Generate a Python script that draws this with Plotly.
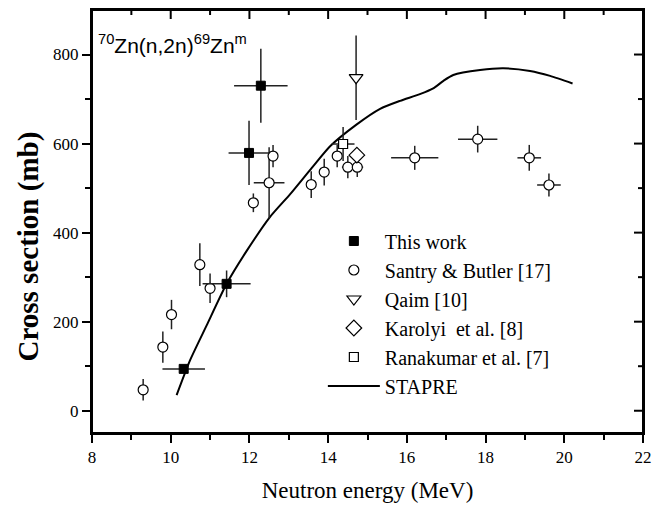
import plotly.graph_objects as go

# ---- data ----
this_x = [10.33, 11.42, 11.99, 12.29]
this_y = [94, 285, 579, 730]
this_ey = [8, 30, 72, 83]
this_ex = [0.54, 0.61, 0.52, 0.68]

sb_x = [9.30, 9.80, 10.02, 10.74, 11.00, 12.10, 12.50, 12.60, 13.57, 13.90, 14.23, 14.50, 14.74, 16.20, 17.80, 19.11, 19.61]
sb_y = [47, 143, 216, 328, 275, 467, 512, 572, 508, 536, 572, 547, 547, 568, 610, 568, 507]
sb_ey = [24, 35, 33, 48, 33, 21, 80, 25, 30, 30, 25, 25, 22, 27, 30, 29, 26]
sb_ex = [0, 0, 0, 0, 0, 0, 0.39, 0, 0, 0.12, 0.12, 0.15, 0.15, 0.6, 0.5, 0.3, 0.3]

qaim_x = [14.71]
qaim_y = [748]
qaim_ey = [95]

karolyi_x = [14.73]
karolyi_y = [574]

rana_x = [14.38]
rana_y = [599]
rana_ey = [38]
rana_ex = [0.29]

stapre_x = [10.15, 10.49, 10.91, 11.42, 11.93, 12.52, 13.03, 13.58, 14.05, 14.71, 15.32, 15.83,
            16.33, 16.67, 16.93, 17.18, 17.86, 18.45, 19.13, 19.64, 20.21]
stapre_y = [35, 113, 191, 285, 359, 435, 486, 545, 594, 642, 678, 696,
            711, 724, 741, 754, 765, 769, 763, 752, 735]

x_ticks = [8, 10, 12, 14, 16, 18, 20, 22]
x_minor = [9, 11, 13, 15, 17, 19, 21]
y_ticks = [0, 200, 400, 600, 800]
y_minor = [100, 300, 500, 700]

SERIF = "Liberation Serif, Times New Roman, serif"
SANS = "Liberation Sans, Arial, sans-serif"
EB = "#222222"

W, H = 663, 505
ML, MR, MT, MB = 92, 20, 10, 72
PW, PH = W - ML - MR, H - MT - MB

fig = go.Figure()

fig.add_trace(go.Scatter(
    x=stapre_x, y=stapre_y, mode="lines", name="STAPRE",
    line=dict(color="black", width=2, shape="spline", smoothing=0.6),
    legendrank=6))

fig.add_trace(go.Scatter(
    x=sb_x, y=sb_y, mode="markers", name="Santry & Butler [17]",
    marker=dict(symbol="circle", size=10, color="white", line=dict(color="black", width=1.2)),
    error_y=dict(type="data", array=sb_ey, color=EB, thickness=1.5, width=0),
    error_x=dict(type="data", array=sb_ex, color=EB, thickness=1.5, width=0),
    legendrank=2))

fig.add_trace(go.Scatter(
    x=qaim_x, y=qaim_y, mode="markers", name="Qaim [10]",
    marker=dict(symbol="triangle-down", size=12, color="white", line=dict(color="black", width=1.2)),
    error_y=dict(type="data", array=qaim_ey, color=EB, thickness=1.5, width=0),
    legendrank=3))

fig.add_trace(go.Scatter(
    x=karolyi_x, y=karolyi_y, mode="markers", name="Karolyi\u00a0 et al. [8]",
    marker=dict(symbol="diamond", size=12, color="white", line=dict(color="black", width=1.2)),
    legendrank=4))

fig.add_trace(go.Scatter(
    x=rana_x, y=rana_y, mode="markers", name="Ranakumar et al. [7]",
    marker=dict(symbol="square", size=9, color="white", line=dict(color="black", width=1.2)),
    error_y=dict(type="data", array=rana_ey, color=EB, thickness=1.5, width=0),
    error_x=dict(type="data", array=rana_ex, color=EB, thickness=1.5, width=0),
    legendrank=5))

fig.add_trace(go.Scatter(
    x=this_x, y=this_y, mode="markers", name="This work",
    marker=dict(symbol="square", size=9, color="black", line=dict(color="black", width=1)),
    error_y=dict(type="data", array=this_ey, color=EB, thickness=1.5, width=0),
    error_x=dict(type="data", array=this_ex, color=EB, thickness=1.5, width=0),
    legendrank=1))

axis_common = dict(showgrid=False, zeroline=False, showline=True, linecolor="black",
                   linewidth=2, tickcolor="black", tickwidth=2, automargin=False)

fig.update_layout(
    width=W, height=H,
    margin=dict(l=ML, r=MR, t=MT, b=MB),
    paper_bgcolor="white", plot_bgcolor="white",
    font=dict(family=SERIF, color="black"),
    xaxis=dict(range=[8, 22], tickvals=x_ticks, ticks="outside", ticklen=8, mirror=True,
               tickfont=dict(family=SERIF, size=17, color="black"),
               minor=dict(tickvals=x_minor, ticks="outside", ticklen=5, tickwidth=2, tickcolor="black"),
               title=dict(text="Neutron energy (MeV)", font=dict(family=SERIF, size=23, color="black"),
                          standoff=15),
               **axis_common),
    yaxis=dict(range=[-50, 900], tickvals=y_ticks, ticks="outside", ticklen=8, mirror=True,
               tickfont=dict(family=SERIF, size=17, color="black"),
               minor=dict(tickvals=y_minor, ticks="outside", ticklen=5, tickwidth=2, tickcolor="black"),
               **axis_common),
    legend=dict(x=0.419, y=0.50, xanchor="left", yanchor="top",
                font=dict(family=SERIF, size=20, color="black"),
                itemwidth=52,
                bgcolor="rgba(0,0,0,0)", borderwidth=0),
    showlegend=True,
)

# plot frame
fig.add_shape(type="rect", xref="paper", yref="paper", x0=0, x1=1, y0=0, y1=1,
              line=dict(color="black", width=2), fillcolor="rgba(0,0,0,0)", layer="above")

# inward ticks on the top and right frame edges (positions taken from the tick lists)
for t in x_ticks[1:-1]:
    fig.add_shape(type="line", xref="x", yref="paper", x0=t, x1=t, y0=1, y1=1 - 9 / PH,
                  line=dict(color="black", width=2))
for t in x_minor:
    fig.add_shape(type="line", xref="x", yref="paper", x0=t, x1=t, y0=1, y1=1 - 5 / PH,
                  line=dict(color="black", width=2))
for t in y_ticks:
    fig.add_shape(type="line", xref="paper", yref="y", x0=1, x1=1 - 9 / PW, y0=t, y1=t,
                  line=dict(color="black", width=2))
for t in y_minor:
    fig.add_shape(type="line", xref="paper", yref="y", x0=1, x1=1 - 5 / PW, y0=t, y1=t,
                  line=dict(color="black", width=2))

fig.add_annotation(
    xref="paper", yref="paper", x=0.008, y=0.955, xanchor="left", yanchor="top",
    text="<sup>70</sup>Zn(n,2n)<sup>69</sup>Zn<sup>m</sup>", showarrow=False,
    font=dict(family=SANS, size=21, color="black"))

fig.add_annotation(
    xref="paper", yref="paper", x=-0.115, y=0.44, xanchor="center", yanchor="middle",
    text="<b>Cross section (mb)</b>", textangle=-90, showarrow=False,
    font=dict(family=SERIF, size=29, color="black"))

fig.write_html("out.html")
